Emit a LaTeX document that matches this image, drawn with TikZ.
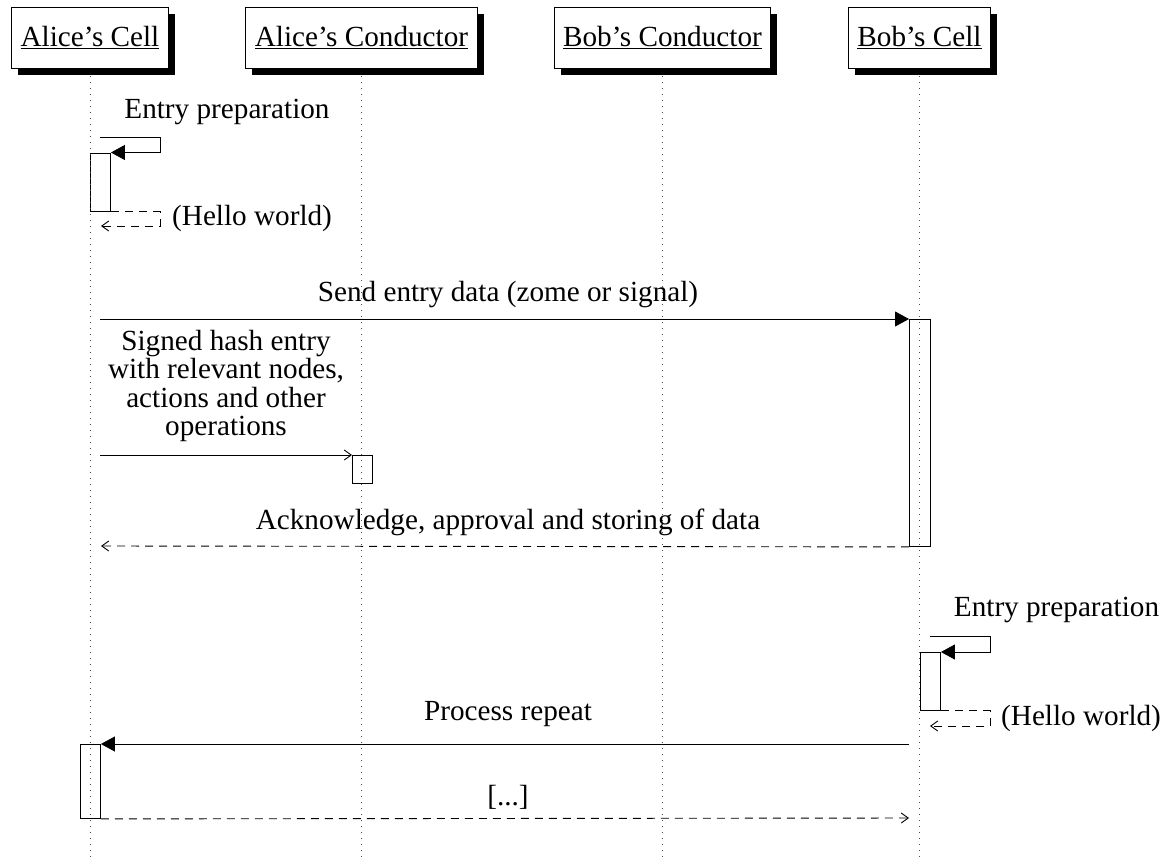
\documentclass[tikz,border=0pt]{standalone}
\usepackage{fontspec}
\setmainfont{Liberation Serif}
\usetikzlibrary{arrows.meta,shadows}
\begin{document}
\begin{tikzpicture}[x=1pt,y=-1pt,
  every node/.style={font=\fontsize{29.2}{28.5}\selectfont},
  hdr/.style={draw, fill=white, line width=0.8pt, minimum height=61pt, inner xsep=9pt,
    drop shadow={shadow xshift=6.5pt,shadow yshift=-6.5pt,fill=black,opacity=1}},
  life/.style={line width=0.8pt, black!70, dash pattern=on 1pt off 5pt},
  act/.style={draw, line width=0.9pt, inner sep=0pt, anchor=north west},
  msg/.style={line width=0.9pt, -{Triangle[length=14pt,width=15pt]}},
  ret/.style={line width=0.9pt, dash pattern=on 8pt off 6pt, -{Straight Barb[length=7pt,width=10pt]}},
  sync/.style={line width=0.9pt, -{Straight Barb[length=7pt,width=10pt]}},
  lbl/.style={inner sep=0pt}]
\useasboundingbox (0,0) rectangle (1164,860);

% headers
\node[hdr] (hA) at (90,37.5) {\underline{Alice’s Cell}};
\node[hdr] (hAC) at (361.5,37.5) {\underline{Alice’s Conductor}};
\node[hdr] (hBC) at (662.5,37.5) {\underline{Bob’s Conductor}};
\node[hdr] (hB) at (919.5,37.5) {\underline{Bob’s Cell}};

% lifeline ends
\coordinate (lA) at (90,860);
\coordinate (lAC) at (361.5,860);
\coordinate (lBC) at (662.5,860);
\coordinate (lB) at (919.5,860);

% activation boxes
\node[act, minimum width=20pt, minimum height=58.5pt] (aS) at (90,152.5) {};
\node[act, minimum width=21pt, minimum height=227pt] (bB) at (909,319) {};
\node[act, minimum width=20pt, minimum height=28pt] (cA) at (352,455) {};
\node[act, minimum width=20.5pt, minimum height=58pt] (bS) at (919.5,652) {};
\node[act, minimum width=20pt, minimum height=74pt] (aR) at (80,744) {};

% lifelines
\draw[life] ([yshift=-8pt]hA.south) -- (lA);
\draw[life] ([yshift=-8pt]hAC.south) -- (lAC);
\draw[life] ([yshift=-8pt]hBC.south) -- (lBC);
\draw[life] ([yshift=-8pt]hB.south) -- (lB);

% Alice self call
\coordinate (s1a) at (100,137);
\coordinate (s1b) at (160,137);
\draw[msg] (s1a) -- (s1b) |- (aS.north east);
\node[lbl] (t1) at (227,112) {Entry preparation};
\coordinate (r1a) at (160,226);
\coordinate (r1b) at (101,226);
\draw[ret] (aS.south east) -| (r1a) -- (r1b);
\node[lbl, anchor=west] (t2) at (172,218) {(Hello world)};

% Send entry data
\coordinate (m2s) at (100,319);
\draw[msg] (m2s) -- (bB.north west);
\node[lbl] (t3) at (508,295) {Send entry data (zome or signal)};

% Signed hash entry
\coordinate (m3s) at (100,455);
\draw[sync] (m3s) -- (cA.north west);
\node[lbl, align=center] (t4) at (226,386) {Signed hash entry\\with relevant nodes,\\actions and other\\operations};

% Acknowledge
\coordinate (m4e) at (101,546);
\draw[ret] (bB.south west) -- (m4e);
\node[lbl] (t5) at (508,522) {Acknowledge, approval and storing of data};

% Bob self call
\coordinate (s2a) at (930,636);
\coordinate (s2b) at (990,636);
\draw[msg] (s2a) -- (s2b) |- (bS.north east);
\node[lbl] (t6) at (1056.5,610) {Entry preparation};
\coordinate (r2a) at (990,726);
\coordinate (r2b) at (930,726);
\draw[ret] (bS.south east) -| (r2a) -- (r2b);
\node[lbl, anchor=west] (t7) at (1001,718) {(Hello world)};

% Process repeat
\coordinate (m6s) at (909,744);
\draw[msg] (m6s) -- (aR.north east);
\node[lbl] (t8) at (508,714) {Process repeat};

% [...]
\coordinate (m7e) at (909,818);
\draw[ret] (aR.south east) -- (m7e);
\node[lbl] (t9) at (508,797) {[...]};
\end{tikzpicture}
\end{document}
